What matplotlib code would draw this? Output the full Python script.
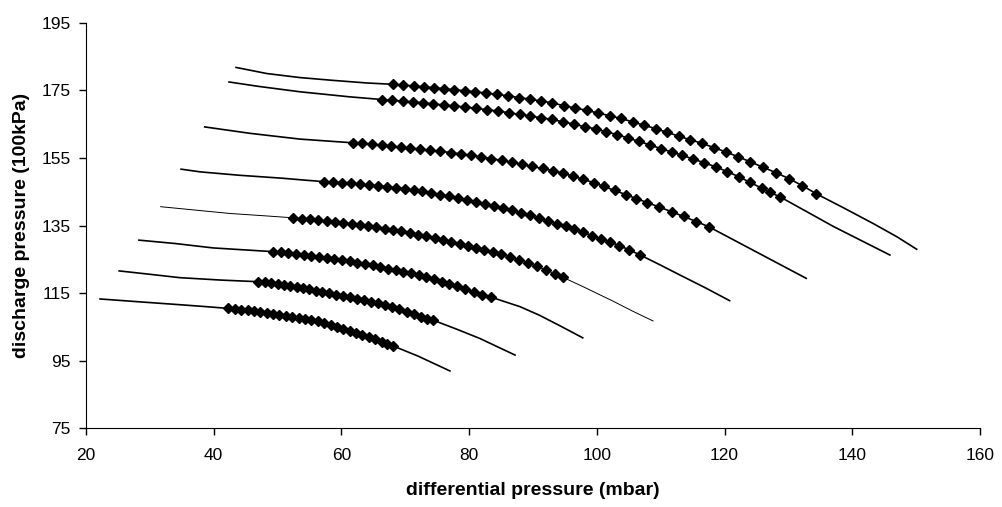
import matplotlib
matplotlib.use("Agg")
import matplotlib.pyplot as plt

plt.rcParams['font.family'] = ['Liberation Sans', 'DejaVu Sans']

# each curve: unmarked head, marked (diamond) middle, unmarked tail
c1_head_x = [43.5, 48.3, 53.5, 58.5, 64.0]
c1_head_y = [181.8, 180.0, 178.8, 178.0, 177.2]
c1_x = [68.1, 69.7, 71.3, 72.9, 74.5, 76.1, 77.7, 79.3, 81.0, 82.7, 84.4, 86.1, 87.8,
        89.5, 91.2, 93.0, 94.8, 96.6, 98.4, 100.2, 102.0, 103.8, 105.6, 107.4, 109.2,
        111.0, 112.8, 114.6, 116.4, 118.3, 120.2, 122.1, 124.0, 126.0, 128.0, 130.1,
        132.2, 134.4]
c1_y = [176.8, 176.6, 176.3, 176.1, 175.8, 175.5, 175.2, 174.9, 174.6, 174.2, 173.8,
        173.4, 172.9, 172.4, 171.9, 171.3, 170.5, 169.8, 169.1, 168.3, 167.5, 166.7,
        165.7, 164.7, 163.7, 162.6, 161.5, 160.4, 159.4, 158.1, 156.8, 155.4, 153.9,
        152.3, 150.7, 148.9, 146.8, 144.4]
c1_tail_x = [138.5, 143.3, 147.0, 150.1]
c1_tail_y = [140.4, 135.6, 131.7, 128.0]

c2_head_x = [42.4, 47.0, 53.5, 61.3]
c2_head_y = [177.5, 176.2, 174.6, 173.1]
c2_x = [66.4, 68.0, 69.6, 71.2, 72.8, 74.4, 76.0, 77.7, 79.4, 81.1, 82.8, 84.5, 86.2,
        87.9, 89.6, 91.3, 93.0, 94.7, 96.4, 98.1, 99.8, 101.5, 103.2, 104.9, 106.6,
        108.3, 110.0, 111.7, 113.4, 115.1, 116.8, 118.6, 120.4, 122.2, 124.0, 125.8,
        127.2, 128.7]
c2_y = [172.3, 172.1, 171.8, 171.6, 171.3, 171.0, 170.7, 170.4, 170.1, 169.7, 169.3,
        168.9, 168.4, 167.9, 167.4, 166.9, 166.4, 165.7, 165.0, 164.3, 163.6, 162.8,
        161.9, 160.9, 159.9, 158.9, 157.8, 156.8, 155.8, 154.7, 153.6, 152.4, 151.0,
        149.5, 147.8, 146.1, 144.8, 143.5]
c2_tail_x = [133.0, 137.0, 141.5, 145.9]
c2_tail_y = [139.0, 134.8, 130.5, 126.3]

c3_head_x = [38.6, 45.7, 53.5, 58.0]
c3_head_y = [164.2, 162.3, 160.6, 160.0]
c3_x = [61.8, 63.3, 64.8, 66.3, 67.8, 69.3, 70.8, 72.3, 73.9, 75.5, 77.1, 78.7, 80.3,
        81.9, 83.5, 85.1, 86.7, 88.3, 89.9, 91.5, 93.1, 94.7, 96.3, 97.9, 99.5, 101.1,
        102.8, 104.5, 106.2, 107.9, 109.8, 111.7, 113.6, 115.6, 117.6]
c3_y = [159.5, 159.3, 159.0, 158.8, 158.5, 158.2, 157.9, 157.6, 157.3, 157.0, 156.6,
        156.2, 155.8, 155.3, 154.8, 154.3, 153.7, 153.1, 152.5, 151.9, 151.3, 150.5,
        149.6, 148.7, 147.7, 146.6, 145.4, 144.2, 143.0, 141.8, 140.5, 139.1, 137.7,
        136.2, 134.6]
c3_tail_x = [122.0, 127.6, 132.8]
c3_tail_y = [130.2, 124.6, 119.4]

c4_head_x = [34.9, 37.9, 44.0, 50.9, 54.0]
c4_head_y = [151.7, 150.9, 149.9, 149.0, 148.5]
c4_x = [57.3, 58.7, 60.1, 61.5, 62.9, 64.3, 65.7, 67.1, 68.5, 69.9, 71.3, 72.7, 74.1,
        75.5, 76.9, 78.3, 79.7, 81.1, 82.5, 83.9, 85.3, 86.7, 88.1, 89.5, 90.9, 92.3,
        93.7, 95.1, 96.5, 97.9, 99.3, 100.7, 102.1, 103.5, 105.1, 106.8]
c4_y = [148.0, 147.9, 147.7, 147.5, 147.3, 147.0, 146.8, 146.5, 146.2, 145.9, 145.5,
        145.1, 144.6, 144.2, 143.7, 143.2, 142.6, 142.0, 141.4, 140.8, 140.1, 139.5,
        138.8, 138.0, 137.2, 136.4, 135.6, 134.8, 133.9, 133.0, 132.0, 131.0, 130.1,
        129.1, 127.8, 126.3]
c4_tail_x = [110.0, 113.0, 117.0, 120.8]
c4_tail_y = [123.3, 120.4, 116.6, 112.8]

c5_head_x = [31.7, 36.0, 42.5, 48.0]
c5_head_y = [140.6, 139.8, 138.6, 137.9]
c5_x = [52.5, 53.8, 55.1, 56.4, 57.7, 59.0, 60.3, 61.6, 62.9, 64.2, 65.5, 66.8, 68.1,
        69.4, 70.7, 72.0, 73.3, 74.6, 75.9, 77.2, 78.5, 79.8, 81.1, 82.4, 83.7, 85.0,
        86.4, 87.8, 89.2, 90.6, 92.0, 93.4, 94.7]
c5_y = [137.3, 137.1, 136.9, 136.7, 136.4, 136.2, 135.9, 135.6, 135.2, 134.9, 134.5,
        134.1, 133.7, 133.3, 132.8, 132.3, 131.8, 131.3, 130.8, 130.3, 129.7, 129.1,
        128.5, 127.9, 127.3, 126.6, 125.8, 124.9, 124.0, 123.0, 121.9, 120.8, 119.7]
c5_tail_x = [98.0, 102.6, 105.5, 108.8]
c5_tail_y = [116.8, 112.6, 109.8, 106.8]

c6_head_x = [28.3, 34.0, 39.9, 45.0]
c6_head_y = [130.7, 129.7, 128.4, 127.8]
c6_x = [49.3, 50.5, 51.7, 52.9, 54.1, 55.3, 56.5, 57.7, 58.9, 60.1, 61.3, 62.5, 63.7,
        64.9, 66.1, 67.3, 68.5, 69.7, 70.9, 72.1, 73.3, 74.5, 75.7, 76.9, 78.1, 79.4,
        80.7, 82.1, 83.5]
c6_y = [127.3, 127.1, 126.9, 126.6, 126.4, 126.1, 125.8, 125.5, 125.2, 124.8, 124.4,
        124.0, 123.6, 123.2, 122.8, 122.3, 121.9, 121.4, 120.9, 120.3, 119.7, 119.1,
        118.4, 117.7, 117.0, 116.2, 115.4, 114.6, 113.8]
c6_tail_x = [88.0, 91.0, 94.5, 97.8]
c6_tail_y = [111.0, 108.5, 105.1, 101.8]

c7_head_x = [25.2, 30.0, 34.7, 41.0]
c7_head_y = [121.6, 120.6, 119.6, 118.9]
c7_x = [47.0, 48.0, 49.0, 50.0, 51.0, 52.0, 53.0, 54.0, 55.0, 56.0, 57.0, 58.1, 59.2,
        60.3, 61.4, 62.5, 63.6, 64.7, 65.8, 66.9, 68.0, 69.1, 70.2, 71.3, 72.4, 73.4,
        74.4]
c7_y = [118.4, 118.2, 118.0, 117.8, 117.5, 117.2, 116.9, 116.5, 116.1, 115.8, 115.4,
        115.0, 114.6, 114.2, 113.8, 113.4, 112.9, 112.5, 112.0, 111.4, 110.8, 110.2,
        109.5, 108.8, 108.1, 107.5, 107.0]
c7_tail_x = [78.0, 81.7, 84.5, 87.2]
c7_tail_y = [104.4, 101.6, 99.1, 96.7]

c8_head_x = [22.2, 28.0, 34.7, 39.0]
c8_head_y = [113.3, 112.5, 111.6, 111.0]
c8_x = [42.3, 43.3, 44.3, 45.3, 46.3, 47.3, 48.3, 49.3, 50.3, 51.3, 52.3, 53.3, 54.3,
        55.3, 56.3, 57.3, 58.3, 59.3, 60.3, 61.3, 62.3, 63.3, 64.3, 65.3, 66.3, 67.2,
        68.1]
c8_y = [110.5, 110.3, 110.1, 109.9, 109.7, 109.5, 109.2, 108.9, 108.6, 108.3, 108.0,
        107.7, 107.4, 107.1, 106.7, 106.2, 105.6, 105.0, 104.4, 103.8, 103.2, 102.6,
        102.0, 101.4, 100.7, 100.1, 99.4]
c8_tail_x = [72.0, 77.0]
c8_tail_y = [96.4, 92.0]

curves = [
    (c1_head_x, c1_head_y, c1_x, c1_y, c1_tail_x, c1_tail_y, 1.2),
    (c2_head_x, c2_head_y, c2_x, c2_y, c2_tail_x, c2_tail_y, 1.2),
    (c3_head_x, c3_head_y, c3_x, c3_y, c3_tail_x, c3_tail_y, 1.2),
    (c4_head_x, c4_head_y, c4_x, c4_y, c4_tail_x, c4_tail_y, 1.2),
    (c5_head_x, c5_head_y, c5_x, c5_y, c5_tail_x, c5_tail_y, 0.7),
    (c6_head_x, c6_head_y, c6_x, c6_y, c6_tail_x, c6_tail_y, 1.2),
    (c7_head_x, c7_head_y, c7_x, c7_y, c7_tail_x, c7_tail_y, 1.2),
    (c8_head_x, c8_head_y, c8_x, c8_y, c8_tail_x, c8_tail_y, 1.2),
]

fig = plt.figure(figsize=(10.03, 5.07), dpi=100)
ax = fig.add_axes([0.0857, 0.155, 0.8913, 0.80])

for hx, hy, mx, my, tx, ty, lw in curves:
    ax.plot(hx + mx + tx, hy + my + ty, color='black', lw=lw)
    ax.plot(mx, my, linestyle='none', marker='D', markersize=5,
            color='black')

ax.set_xlim(20, 160)
ax.set_ylim(75, 195)
ax.set_xticks(range(20, 161, 20))
ax.set_yticks(range(75, 196, 20))
ax.tick_params(direction='out', length=5, width=1, labelsize=12.5)
ax.tick_params(axis='x', pad=9)
ax.tick_params(axis='y', pad=6)
ax.spines['top'].set_visible(False)
ax.spines['right'].set_visible(False)
ax.set_xlabel('differential pressure (mbar)', fontsize=14, fontweight='bold', labelpad=14)
ax.set_ylabel('discharge pressure (100kPa)', fontsize=14, fontweight='bold', labelpad=8)

fig.savefig('out.png', dpi=100)
